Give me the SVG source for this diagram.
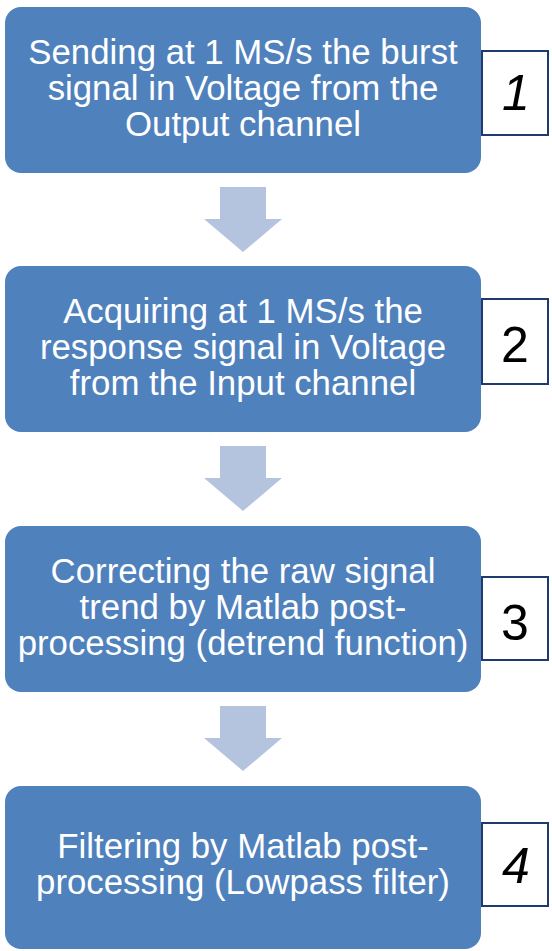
<svg xmlns="http://www.w3.org/2000/svg" width="552" height="951" viewBox="0 0 552 951">
  <style>
    .step { fill: #4f81bd; }
    .step-text { fill: #ffffff; font-family: "Liberation Sans", Arial, sans-serif; font-size: 34.8px; text-anchor: middle; }
    .num-box { fill: #ffffff; stroke: #1f3a6e; stroke-width: 2; }
    .num { fill: #000000; font-family: "Liberation Sans", Arial, sans-serif; font-size: 50px; text-anchor: middle; }
    .flow { fill: #b4c4de; }
  </style>
  <defs>
    <!-- block arrow pointing down, origin at the shaft top centre -->
    <path id="down" d="M -23 0 H 23 V 32 H 39 L 0 65 L -39 32 H -23 Z"/>
  </defs>

  <rect width="552" height="951" fill="#ffffff"/>

  <g id="connectors">
    <use href="#down" class="flow" x="243" y="187"/>
    <use href="#down" class="flow" x="243" y="446"/>
    <use href="#down" class="flow" x="243" y="706"/>
  </g>

  <g id="step1">
    <rect class="step" x="5" y="7" width="476" height="166" rx="16"/>
    <text class="step-text" x="243" y="64">Sending at 1 MS/s the burst</text>
    <text class="step-text" x="243" y="100">signal in Voltage from the</text>
    <text class="step-text" x="243" y="136">Output channel</text>
    <rect class="num-box" x="482" y="51" width="66" height="84"/>
    <text class="num" x="516" y="110" font-style="italic">1</text>
  </g>

  <g id="step2">
    <rect class="step" x="5" y="266" width="476" height="166" rx="16"/>
    <text class="step-text" x="243" y="323">Acquiring at 1 MS/s the</text>
    <text class="step-text" x="243" y="359">response signal in Voltage</text>
    <text class="step-text" x="243" y="395">from the Input channel</text>
    <rect class="num-box" x="482" y="299" width="66" height="85"/>
    <text class="num" x="515" y="362">2</text>
  </g>

  <g id="step3">
    <rect class="step" x="5" y="526" width="476" height="166" rx="16"/>
    <text class="step-text" x="243" y="583">Correcting the raw signal</text>
    <text class="step-text" x="243" y="619">trend by Matlab post-</text>
    <text class="step-text" x="243" y="655">processing (detrend function)</text>
    <rect class="num-box" x="482" y="577" width="66" height="83"/>
    <text class="num" x="515" y="640">3</text>
  </g>

  <g id="step4">
    <rect class="step" x="5" y="786" width="476" height="163" rx="16"/>
    <text class="step-text" x="243" y="858">Filtering by Matlab post-</text>
    <text class="step-text" x="243" y="894">processing (Lowpass filter)</text>
    <rect class="num-box" x="482" y="823" width="66" height="83"/>
    <text class="num" x="516" y="883" font-style="italic">4</text>
  </g>
</svg>
